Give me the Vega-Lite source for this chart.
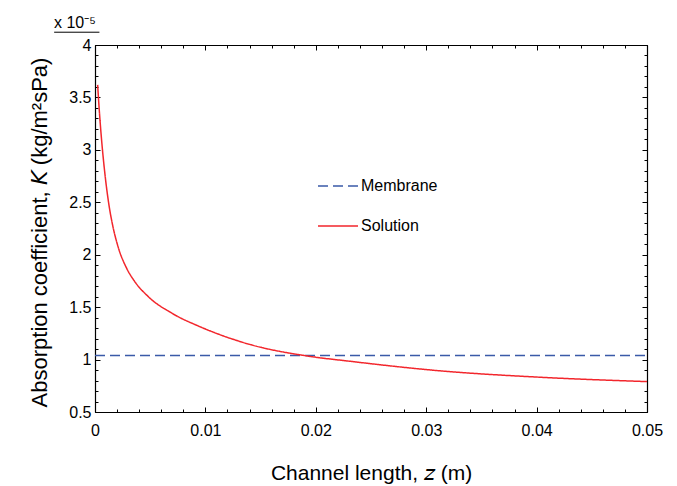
{
  "$schema": "https://vega.github.io/schema/vega-lite/v6.json",
  "width": 552,
  "height": 367,
  "autosize": {"type": "none"},
  "padding": {"left": 95, "top": 45, "right": 30, "bottom": 74},
  "background": "white",
  "title": {"text": "x 10⁻⁵", "anchor": "start", "frame": "group", "dx": -41, "offset": 1, "font": "Liberation Sans", "fontSize": 16, "fontWeight": "normal", "color": "black"},
  "config": {
    "view": {"stroke": "black", "strokeWidth": 1},
    "axis": {"labelFont": "Liberation Sans", "titleFont": "Liberation Sans", "labelFontSize": 16, "titleFontSize": 21, "titleFontWeight": "normal", "labelColor": "black", "titleColor": "black", "domainColor": "black", "domainWidth": 1.2, "tickColor": "black", "tickWidth": 1, "grid": false},
    "legend": {"labelFont": "Liberation Sans", "labelFontSize": 16, "labelColor": "black"}
  },
  "datasets": {
    "curves": [
      {"z": 0, "K": 1.04, "series": "Membrane"},
      {"z": 0.05, "K": 1.04, "series": "Membrane"},
      {"z": 0.00024, "K": 3.62, "series": "Solution"},
      {"z": 0.00036, "K": 3.42, "series": "Solution"},
      {"z": 0.00048, "K": 3.245, "series": "Solution"},
      {"z": 0.0006, "K": 3.09, "series": "Solution"},
      {"z": 0.00091, "K": 2.76, "series": "Solution"},
      {"z": 0.00127, "K": 2.47, "series": "Solution"},
      {"z": 0.0016, "K": 2.28, "series": "Solution"},
      {"z": 0.00205, "K": 2.09, "series": "Solution"},
      {"z": 0.00287, "K": 1.87, "series": "Solution"},
      {"z": 0.00356, "K": 1.75, "series": "Solution"},
      {"z": 0.00483, "K": 1.6, "series": "Solution"},
      {"z": 0.007, "K": 1.44, "series": "Solution"},
      {"z": 0.00936, "K": 1.32, "series": "Solution"},
      {"z": 0.0107, "K": 1.262, "series": "Solution"},
      {"z": 0.014, "K": 1.145, "series": "Solution"},
      {"z": 0.0195, "K": 1.03, "series": "Solution"},
      {"z": 0.023, "K": 0.985, "series": "Solution"},
      {"z": 0.031, "K": 0.895, "series": "Solution"},
      {"z": 0.0406, "K": 0.83, "series": "Solution"},
      {"z": 0.05, "K": 0.79, "series": "Solution"}
    ],
    "underline": [{"z1": -0.0037, "z2": 0.0004, "K": 4.122}]
  },
  "layer": [
    {
      "data": {"name": "curves"},
      "mark": {"type": "line", "strokeWidth": 1.5, "interpolate": "monotone"},
      "encoding": {
        "x": {"field": "z", "type": "quantitative", "scale": {"domain": [0, 0.05], "nice": false, "zero": false},
          "axis": {"orient": "bottom", "title": "Channel length, 𝘻 (m)", "titlePadding": 22, "format": "~g",
            "values": [0,0.002,0.004,0.006,0.008,0.01,0.012,0.014,0.016,0.018,0.02,0.022,0.024,0.026,0.028,0.03,0.032,0.034,0.036,0.038,0.04,0.042,0.044,0.046,0.048,0.05],
            "labelExpr": "abs(datum.value*100 - round(datum.value*100)) < 1e-6 ? datum.label : ''",
            "tickSize": {"condition": {"test": "abs(datum.value*100 - round(datum.value*100)) < 1e-6", "value": -5}, "value": -3},
            "labelPadding": 15, "labelFlush": false, "labelOverlap": false}},
        "y": {"field": "K", "type": "quantitative", "scale": {"domain": [0.5, 4], "nice": false, "zero": false},
          "axis": {"orient": "left", "title": "Absorption coefficient, 𝘒 (kg/m²sPa)", "titleFontSize": 22, "titlePadding": 17, "titleY": 187, "format": "~g",
            "values": [0.5,0.6,0.7,0.8,0.9,1,1.1,1.2,1.3,1.4,1.5,1.6,1.7,1.8,1.9,2,2.1,2.2,2.3,2.4,2.5,2.6,2.7,2.8,2.9,3,3.1,3.2,3.3,3.4,3.5,3.6,3.7,3.8,3.9,4],
            "labelExpr": "abs(datum.value*2 - round(datum.value*2)) < 1e-6 ? datum.label : ''",
            "tickSize": {"condition": {"test": "abs(datum.value*2 - round(datum.value*2)) < 1e-6", "value": -5}, "value": -3},
            "labelPadding": 9, "labelFlush": false, "labelOverlap": false}},
        "color": {"field": "series", "type": "nominal", "scale": {"domain": ["Membrane", "Solution"], "range": ["#3a5aa8", "#f2262c"]},
          "legend": {"title": null, "orient": "none", "legendX": 222, "legendY": 120, "symbolType": "stroke", "symbolSize": 1600, "symbolStrokeWidth": 1.5, "labelOffset": 2, "rowPadding": 11, "padding": 0}},
        "strokeDash": {"field": "series", "type": "nominal", "scale": {"domain": ["Membrane", "Solution"], "range": [[10, 5], [1, 0]]},
          "legend": {"title": null, "orient": "none", "legendX": 222, "legendY": 120, "symbolType": "stroke", "symbolSize": 1600, "symbolStrokeWidth": 1.5, "labelOffset": 2, "rowPadding": 11, "padding": 0}}
      }
    },
    {
      "data": {"name": "curves"},
      "mark": {"type": "line", "opacity": 0},
      "encoding": {
        "x": {"field": "z", "type": "quantitative",
          "axis": {"orient": "top", "title": null, "labels": false,
            "values": [0,0.002,0.004,0.006,0.008,0.01,0.012,0.014,0.016,0.018,0.02,0.022,0.024,0.026,0.028,0.03,0.032,0.034,0.036,0.038,0.04,0.042,0.044,0.046,0.048,0.05],
            "tickSize": {"condition": {"test": "abs(datum.value*100 - round(datum.value*100)) < 1e-6", "value": -5}, "value": -3}}},
        "y": {"field": "K", "type": "quantitative",
          "axis": {"orient": "right", "title": null, "labels": false,
            "values": [0.5,0.6,0.7,0.8,0.9,1,1.1,1.2,1.3,1.4,1.5,1.6,1.7,1.8,1.9,2,2.1,2.2,2.3,2.4,2.5,2.6,2.7,2.8,2.9,3,3.1,3.2,3.3,3.4,3.5,3.6,3.7,3.8,3.9,4],
            "tickSize": {"condition": {"test": "abs(datum.value*2 - round(datum.value*2)) < 1e-6", "value": -5}, "value": -3}}}
      }
    },
    {
      "data": {"name": "underline"},
      "mark": {"type": "rule", "color": "black", "strokeWidth": 1, "clip": false},
      "encoding": {
        "x": {"field": "z1", "type": "quantitative", "axis": null},
        "x2": {"field": "z2"},
        "y": {"field": "K", "type": "quantitative", "axis": null}
      }
    }
  ],
  "resolve": {"axis": {"x": "independent", "y": "independent"}}
}
